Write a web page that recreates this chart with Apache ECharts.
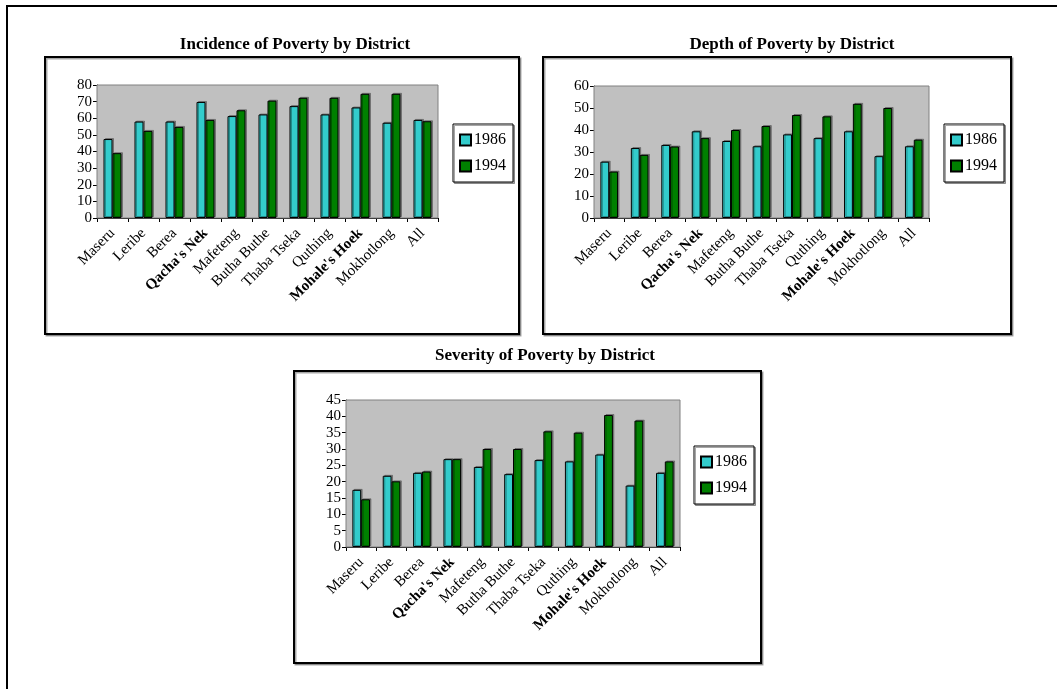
<!DOCTYPE html>
<html>
<head>
<meta charset="utf-8">
<script src="https://cdn.jsdelivr.net/npm/echarts@6/dist/echarts.min.js"></script>
<style>
html,body{margin:0;padding:0;background:#fff;}
#c{width:1057px;height:689px;}
</style>
</head>
<body>
<div id="c"></div>
<script>
var districts = ['Maseru','Leribe','Berea',"Qacha's Nek",'Mafeteng','Butha Buthe','Thaba Tseka','Quthing',"Mohale's Hoek",'Mokhotlong','All'];
var seriesNames = ['1986','1994'];

var incidence1986 = [47.5, 58, 58, 69.8, 61.3, 62.3, 67.3, 62.3, 66.5, 57.3, 59];
var incidence1994 = [39, 52.4, 54.8, 59, 64.8, 70.6, 72.3, 72.3, 74.7, 74.7, 58.2];

var depth1986 = [25.6, 31.8, 33.2, 39.4, 35, 32.6, 38, 36.3, 39.4, 28.1, 32.6];
var depth1994 = [21.1, 28.7, 32.5, 36.3, 40, 41.8, 46.8, 46.2, 51.9, 50, 35.6];

var severity1986 = [17.5, 21.8, 22.7, 26.9, 24.5, 22.3, 26.6, 26.2, 28.3, 18.8, 22.7];
var severity1994 = [14.6, 20.1, 23.1, 26.9, 30, 30, 35.4, 35, 40.4, 38.7, 26.2];

var titles = ['Incidence of Poverty by District','Depth of Poverty by District','Severity of Poverty by District'];
var yMax = [80, 60, 45];
var yInterval = [10, 10, 5];

var FONT = '"Liberation Serif","Times New Roman",serif';
var CYAN = '#33CCCC', GREEN = '#008000';

var layouts = [
  {grid:{left:97, top:85, width:341, height:133}, title:{x:290, y:31}, legend:{left:453, top:124}, box:[45,57,474,277]},
  {grid:{left:594, top:86, width:335, height:132}, title:{x:787, y:31}, legend:{left:944, top:124}, box:[543,57,468,277]},
  {grid:{left:346, top:400, width:334, height:147}, title:{x:540, y:342}, legend:{left:694, top:446}, box:[294,371,467,292]}
];
var data = [[incidence1986, incidence1994],[depth1986, depth1994],[severity1986, severity1994]];

var grids=[], xAxes=[], yAxes=[], series=[], titleArr=[], legends=[], graphics=[];

graphics.push({type:'polyline', shape:{points:[[7,689],[7,6],[1057,6]]}, style:{stroke:'#000', lineWidth:2, fill:null}, z:0});

layouts.forEach(function(L, i){
  graphics.push({type:'rect', shape:{x:L.box[0], y:L.box[1], width:L.box[2], height:L.box[3]},
    style:{fill:'#fff', stroke:'#000', lineWidth:2, shadowColor:'rgba(0,0,0,0.35)', shadowOffsetX:1.5, shadowOffsetY:1.5, shadowBlur:0}, z:-10, zlevel:0});
  grids.push({left:L.grid.left, top:L.grid.top, width:L.grid.width, height:L.grid.height, show:true, backgroundColor:'#C0C0C0', borderColor:'#808080', borderWidth:1, z:1});
  xAxes.push({type:'category', gridIndex:i, data:districts,
    axisLine:{lineStyle:{color:'#000', width:1}},
    axisTick:{show:true, length:4, lineStyle:{color:'#000'}},
    axisLabel:{rotate:45, fontFamily:FONT, fontSize:15, color:'#000', margin:13, interval:0,
      formatter:function(v){ return (v.indexOf("'")>=0) ? '{b|'+v+'}' : v; },
      rich:{b:{fontFamily:FONT, fontSize:15, fontWeight:'bold', color:'#000'}}
    }});
  yAxes.push({type:'value', gridIndex:i, min:0, max:yMax[i], interval:yInterval[i],
    axisLine:{show:true, lineStyle:{color:'#000', width:1}},
    axisTick:{show:true, length:4, lineStyle:{color:'#000'}},
    axisLabel:{fontFamily:FONT, fontSize:15, color:'#000', margin:5},
    splitLine:{show:true, lineStyle:{color:'#000', width:1}}});
  seriesNames.forEach(function(n, k){
    series.push({type:'bar', name:n, xAxisIndex:i, yAxisIndex:i, data:data[i][k],
      barGap:'0%', barCategoryGap:'42%',
      itemStyle:{color: k===0?CYAN:GREEN, borderColor:'#000', borderWidth:1,
        shadowColor:'rgba(0,0,0,0.3)', shadowOffsetX:1.5, shadowOffsetY:-1, shadowBlur:0}});
  });
  titleArr.push({text:titles[i], left:L.title.x, top:L.title.y, textAlign:'center',
    textStyle:{fontFamily:FONT, fontSize:17, fontWeight:'bold', color:'#000'}});
  legends.push({data:seriesNames, orient:'vertical', left:L.legend.left, top:L.legend.top,
    padding:[8,7,8,6], itemGap:10, itemWidth:11, itemHeight:11, icon:'rect',
    borderColor:'#000', borderWidth:1, backgroundColor:'#fff',
    shadowColor:'rgba(0,0,0,0.35)', shadowOffsetX:1.5, shadowOffsetY:1.5, shadowBlur:0,
    selectedMode:false,
    textStyle:{fontFamily:FONT, fontSize:16, color:'#000', padding:[0,0,0,-2]}});
});

var chart = echarts.init(document.getElementById('c'), null, {renderer:'canvas'});
chart.setOption({
  animation:false,
  backgroundColor:'#fff',
  title:titleArr,
  legend:legends,
  grid:grids,
  xAxis:xAxes,
  yAxis:yAxes,
  series:series,
  graphic:graphics
});
</script>
</body>
</html>
